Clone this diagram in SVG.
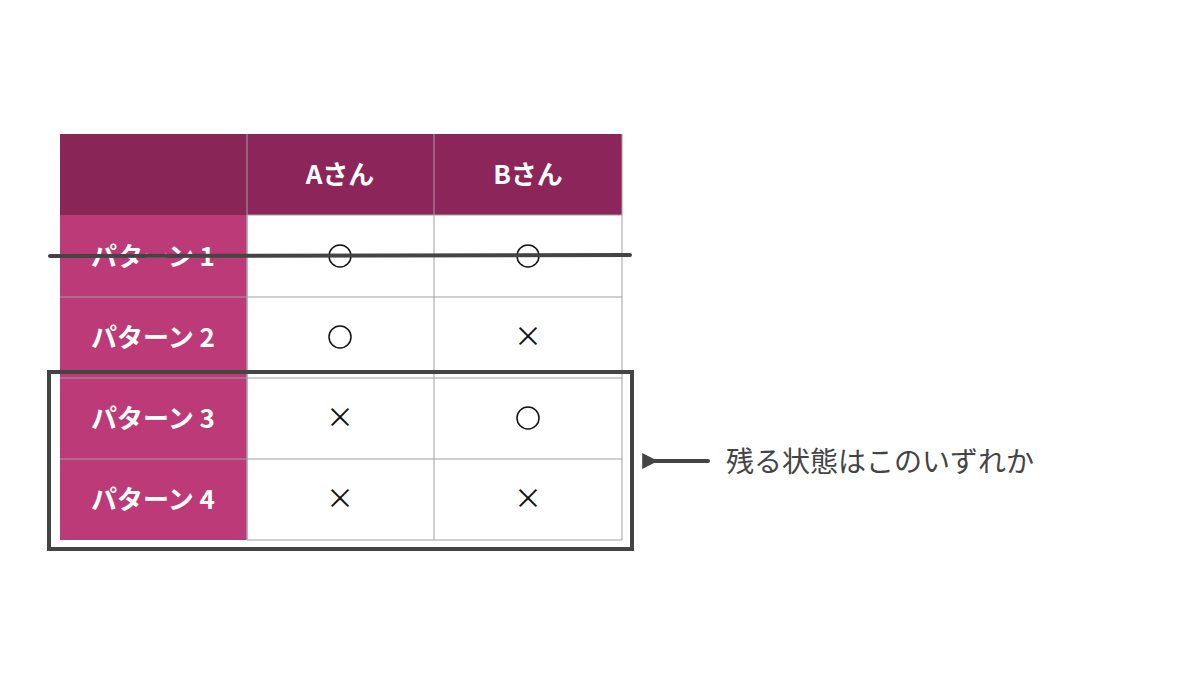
<svg xmlns="http://www.w3.org/2000/svg" width="1200" height="675" viewBox="0 0 1200 675">
<defs>
<style>
.hd{fill:#8c2559}
.rh{fill:#bb3a77}
.cell{fill:#fff}
.grid{stroke:#a0a0a0;stroke-width:1;fill:none}
.ht{font-family:"Noto Sans CJK JP",sans-serif;font-weight:bold;font-size:26px;fill:#fff;text-anchor:middle}
.sym{font-family:"Noto Sans CJK JP",sans-serif;font-size:28px;fill:#111;text-anchor:middle}
.pen{stroke:#444;stroke-width:4;fill:none;stroke-linecap:round}
</style>
<marker id="ah" viewBox="0 0 10 10" refX="2" refY="5" markerWidth="4" markerHeight="4" orient="auto-start-reverse"><path d="M0,5 L10,0 L10,10 Z" fill="#444"/></marker>
</defs>
<rect width="1200" height="675" fill="#fff"/>
<g id="table">
<rect x="60" y="134" width="187" height="81" fill="#8a2657"/>
<rect class="hd" x="247" y="134" width="375" height="81"/>
<rect class="rh" x="60" y="215" width="187" height="325"/>
<rect class="cell" x="247" y="215" width="375" height="325"/>
<path class="grid" d="M247,215H622M60,297H622M60,378H622M60,459H622M247,540H622M434,134V540M247,134V540M622,134V540M247,215V540"/>
<text class="ht" x="340" y="184">Aさん</text>
<text class="ht" x="528" y="184">Bさん</text>
<text class="ht" x="153" y="266">パターン 1</text>
<text class="ht" x="153" y="347">パターン 2</text>
<text class="ht" x="153" y="428">パターン 3</text>
<text class="ht" x="153" y="509">パターン 4</text>
<circle cx="340" cy="256" r="11" fill="none" stroke="#111" stroke-width="1.5"/>
<circle cx="528" cy="256" r="11" fill="none" stroke="#111" stroke-width="1.5"/>
<circle cx="340" cy="337" r="11" fill="none" stroke="#111" stroke-width="1.5"/>
<text class="sym" x="528" y="347">×</text>
<text class="sym" x="340" y="428">×</text>
<circle cx="528" cy="418" r="11" fill="none" stroke="#111" stroke-width="1.5"/>
<text class="sym" x="340" y="509">×</text>
<text class="sym" x="528" y="509">×</text>
</g>
<g id="connectors">
<path class="pen" d="M50,256 L630,255"/>
<rect class="pen" x="49" y="372" width="583" height="177" stroke-width="3"/>
<path class="pen" d="M708,461 L655,461" stroke-width="3" marker-end="url(#ah)"/>
</g>
<g id="note">
<text x="726" y="472" font-family="'Noto Sans CJK JP',sans-serif" font-size="28" fill="#444">残る状態はこのいずれか</text>
</g>
</svg>
